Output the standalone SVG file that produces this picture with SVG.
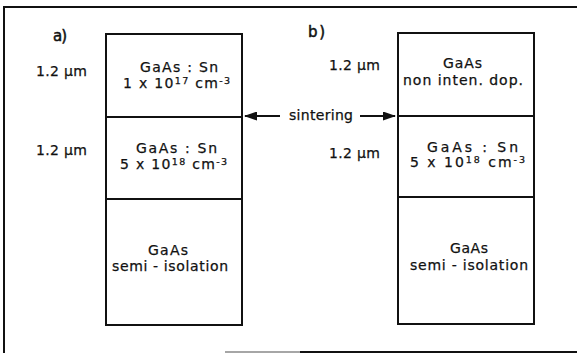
<svg xmlns="http://www.w3.org/2000/svg" width="577" height="353" viewBox="0 0 577 353">
<defs>
<style>
text{font-family:"DejaVu Sans","Liberation Sans",sans-serif;font-size:14px;fill:#111;stroke:#111;stroke-width:0.25;}
.box{fill:none;stroke:#111;stroke-width:2;}
.ln{stroke:#111;stroke-width:2;fill:none;}
.sup{font-size:9.5px;}
.lab{font-size:15px;stroke-width:0.5;}
</style>
<marker id="ah" markerWidth="13" markerHeight="9" refX="12" refY="4.5" orient="auto" markerUnits="userSpaceOnUse">
<path d="M0,0 L13,4.5 L0,9 Z" fill="#111"/>
</marker>
</defs>
<rect width="577" height="353" fill="#fff"/>
<g id="frame">
<path class="ln" d="M4,353 L4,7 L577,7"/>
<path class="ln" d="M300,352 L577,352"/>
<path d="M225,352 L300,352" stroke="#888" stroke-width="1.5"/>
</g>
<g id="label-a"><text class="lab" x="53" y="41" textLength="14">a)</text></g>
<g id="label-b"><text class="lab" x="308" y="37" textLength="17">b)</text></g>
<g id="left-dims">
<text x="36" y="76" textLength="51">1.2 µm</text>
<text x="36" y="155" textLength="51">1.2 µm</text>
</g>
<g id="right-dims">
<text x="329" y="70" textLength="51">1.2 µm</text>
<text x="329" y="158" textLength="51">1.2 µm</text>
</g>
<g id="stack-a">
<rect class="box" x="106" y="34" width="136" height="291"/>
<line class="ln" x1="106" y1="117" x2="242" y2="117"/>
<line class="ln" x1="106" y1="199" x2="242" y2="199"/>
<g id="a-layer1">
<text x="140" y="72" textLength="78">GaAs : Sn</text>
<text x="123" y="88" textLength="107">1 x 10<tspan class="sup" dy="-4">17</tspan><tspan dy="4"> cm</tspan><tspan class="sup" dy="-4">-3</tspan></text>
</g>
<g id="a-layer2">
<text x="136" y="153" textLength="81">GaAs : Sn</text>
<text x="120" y="169" textLength="107">5 x 10<tspan class="sup" dy="-4">18</tspan><tspan dy="4"> cm</tspan><tspan class="sup" dy="-4">-3</tspan></text>
</g>
<g id="a-layer3">
<text x="148" y="255" textLength="40">GaAs</text>
<text x="112" y="271" textLength="116">semi - isolation</text>
</g>
</g>
<g id="stack-b">
<rect class="box" x="398" y="33" width="136" height="291"/>
<line class="ln" x1="398" y1="116" x2="534" y2="116"/>
<line class="ln" x1="398" y1="197" x2="534" y2="197"/>
<g id="b-layer1">
<text x="443" y="68" textLength="39">GaAs</text>
<text x="403" y="85" textLength="120">non inten. dop.</text>
</g>
<g id="b-layer2">
<text x="427" y="152" textLength="91">GaAs : Sn</text>
<text x="410" y="167" textLength="115">5 x 10<tspan class="sup" dy="-4">18</tspan><tspan dy="4"> cm</tspan><tspan class="sup" dy="-4">-3</tspan></text>
</g>
<g id="b-layer3">
<text x="450" y="253" textLength="38">GaAs</text>
<text x="410" y="270" textLength="118">semi - isolation</text>
</g>
</g>
<g id="connectors">
<line class="ln" x1="280" y1="116" x2="245" y2="116" marker-end="url(#ah)"/>
<line class="ln" x1="360" y1="116" x2="395" y2="116" marker-end="url(#ah)"/>
<text x="289" y="120" textLength="64">sintering</text>
</g>
</svg>
